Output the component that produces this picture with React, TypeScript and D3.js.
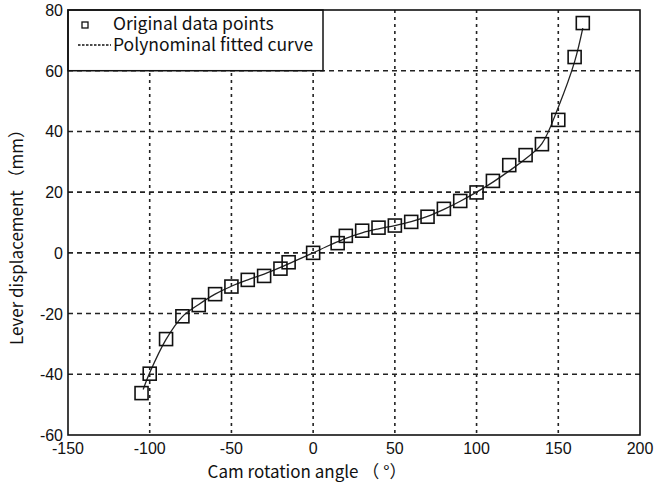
import { useEffect } from 'react';
import * as d3 from 'd3';

// measured squares
const angles = [-105, -100, -90, -80, -70, -60, -50, -40, -30, -20, -15, 0, 15, 20, 30, 40, 50, 60, 70, 80, 90, 100, 110, 120, 130, 140, 150, 160, 165];
const displacement = [-46.2, -39.8, -28.4, -20.9, -17.2, -13.6, -11.1, -8.9, -7.6, -5.2, -3.1, 0, 3.2, 5.6, 7.3, 8.3, 9.0, 10.2, 11.9, 14.5, 17.1, 19.9, 23.7, 28.9, 32.2, 35.8, 43.8, 64.5, 75.7];

// fitted curve
const fitAngles = [-104, -100, -90, -80, -70, -60, -50, -40, -30, -20, -10, 0, 10, 20, 30, 40, 50, 60, 70, 80, 90, 100, 110, 120, 130, 140, 150, 160, 165];
const fitValues = [-45, -39.5, -28.5, -21, -17, -13.6, -11, -8.9, -7, -4.8, -2.4, 0, 2.5, 4.8, 6.6, 7.9, 9.0, 10.3, 12, 14.3, 17, 20, 23.3, 27, 31, 36, 48, 63, 74];

const xTicks = [-150, -100, -50, 0, 50, 100, 150, 200];
const yTicks = [-60, -40, -20, 0, 20, 40, 60, 80];

const W = 654;
const H = 483;
const m = { left: 68, right: 640, top: 10, bottom: 435 };
const tickFont = '"Liberation Sans", Arial, sans-serif';
const labelFont = '"Noto Sans CJK SC", "Noto Sans", sans-serif';

export default function App() {
  useEffect(() => {
    document.body.style.margin = '0';
  }, []);

  const x = d3.scaleLinear().domain([-150, 200]).range([m.left, m.right]);
  const y = d3.scaleLinear().domain([-60, 80]).range([m.bottom, m.top]);

  const line = d3
    .line<number>()
    .x((d) => x(d))
    .y((_, i) => y(fitValues[i]))
    .curve(d3.curveCatmullRom);

  const sq = 13;

  return (
    <svg width={W} height={H} style={{ display: 'block', background: '#fff' }}>
      {/* grid */}
      {xTicks.slice(1, -1).map((t) => (
        <line key={'gx' + t} x1={x(t)} x2={x(t)} y1={m.top} y2={m.bottom}
          stroke="#222" strokeWidth={1.6} strokeDasharray="3,4" />
      ))}
      {yTicks.slice(1, -1).map((t) => (
        <line key={'gy' + t} x1={m.left} x2={m.right} y1={y(t)} y2={y(t)}
          stroke="#222" strokeWidth={1.6} strokeDasharray="5,4" />
      ))}

      {/* fitted curve */}
      <path d={line(fitAngles) ?? ''} fill="none" stroke="#222" strokeWidth={1.3} />

      {/* data squares */}
      {angles.map((a, i) => (
        <rect key={'p' + i} x={x(a) - sq / 2} y={y(displacement[i]) - sq / 2} width={sq} height={sq}
          fill="none" stroke="#111" strokeWidth={1.6} />
      ))}

      {/* legend */}
      <rect x={m.left} y={m.top} width={323 - m.left} height={y(60) - m.top} fill="#fff" stroke="#111" strokeWidth={1.5} />
      <rect x={82} y={22} width={6} height={6} fill="none" stroke="#111" strokeWidth={1.3} />
      <line x1={78} x2={111} y1={45} y2={45} stroke="#111" strokeWidth={1.3} strokeDasharray="2.5,1.5" />
      <text x={113} y={30} fontFamily={labelFont} fontSize={17.5} fill="#111">Original data points</text>
      <text x={113} y={51} fontFamily={labelFont} fontSize={17.5} fill="#111">Polynominal fitted curve</text>

      {/* frame */}
      <rect x={m.left} y={m.top} width={m.right - m.left} height={m.bottom - m.top} fill="none" stroke="#111" strokeWidth={1.6} />

      {/* tick labels */}
      {yTicks.map((t) => (
        <text key={'ty' + t} x={m.left - 5} y={y(t) + 6} textAnchor="end" fontFamily={tickFont} fontSize={16} fill="#111">{t}</text>
      ))}
      {xTicks.map((t) => (
        <text key={'tx' + t} x={x(t)} y={m.bottom + 19} textAnchor="middle" fontFamily={tickFont} fontSize={16} fill="#111">{t}</text>
      ))}

      {/* axis titles */}
      <text x={307} y={478} textAnchor="middle" fontFamily={labelFont} fontSize={17} fill="#111">Cam rotation angle （ °）</text>
      <text transform={`translate(23, 233) rotate(-90)`} textAnchor="middle" fontFamily={labelFont} fontSize={17} fill="#111">Lever displacement （mm）</text>
    </svg>
  );
}
